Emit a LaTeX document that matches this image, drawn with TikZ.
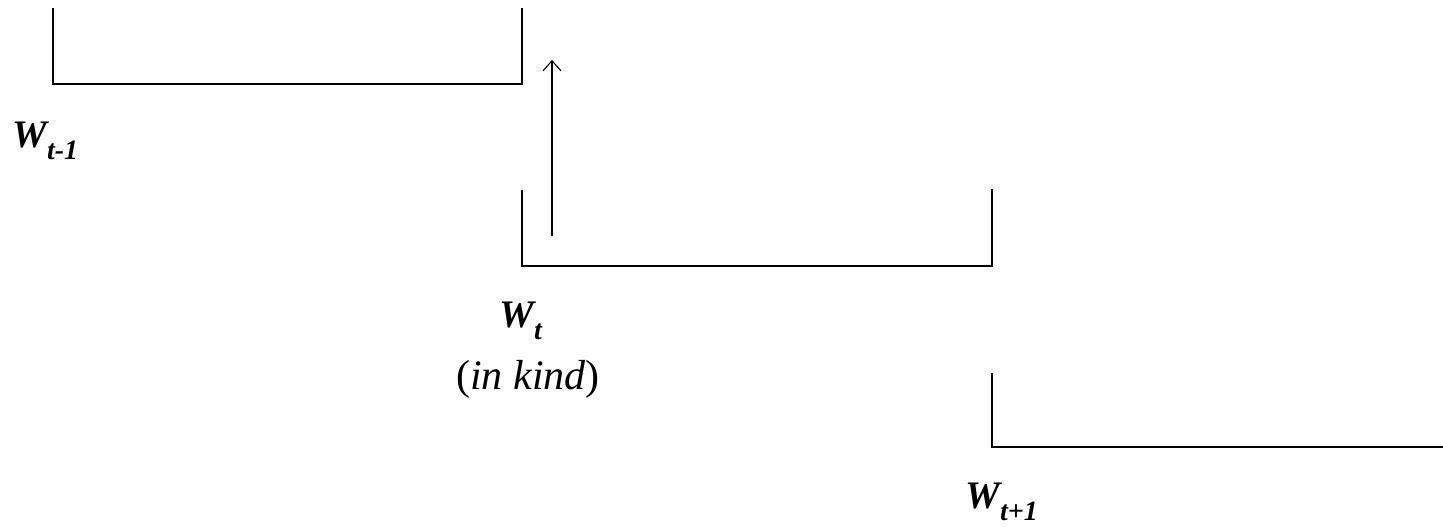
\documentclass[tikz,border=0pt]{standalone}
\usepackage{fontspec}
\setmainfont{Liberation Serif}
\usetikzlibrary{arrows.meta}
% bold italic W with a bold italic subscript
\newcommand{\wsym}[1]{{\fontsize{19.5}{23}\selectfont\bfseries\itshape W}\raisebox{-6pt}{\fontsize{14}{16}\selectfont\bfseries\itshape #1}}
\begin{document}
\begin{tikzpicture}[x=0.5pt,y=-0.5pt,
  tray/.style={line width=1.3pt, line cap=rect},
  flow/.style={line width=0.55pt, -{Straight Barb[length=5pt,width=9pt,line width=0.55pt]}},
  lab/.style={inner sep=0pt, anchor=base west}]
\useasboundingbox (0,0) rectangle (1443,526);
% three stepped trays
\draw[tray] (53,9) -- (53,84) -- (522,84) -- (522,9);
\draw[tray] (522,191) -- (522,266) -- (992,266) -- (992,190);
\draw[tray] (992,374) -- (992,447) -- (1443,447);
% transfer from period t up to period t-1
\coordinate (src) at (552,236);
\coordinate (dst) at (552,60);
\draw[flow] (src) -- (dst);
% labels
\node[lab] (wprev) at (12,147) {\wsym{t-1}};
\node[lab] (wcur) at (499,327) {\wsym{t}};
\node[lab, anchor=base] (kind) at (528,389) {\fontsize{21}{25}\selectfont(\textit{in kind})};
\node[lab] (wnext) at (965,508) {\wsym{t+1}};
\end{tikzpicture}
\end{document}
